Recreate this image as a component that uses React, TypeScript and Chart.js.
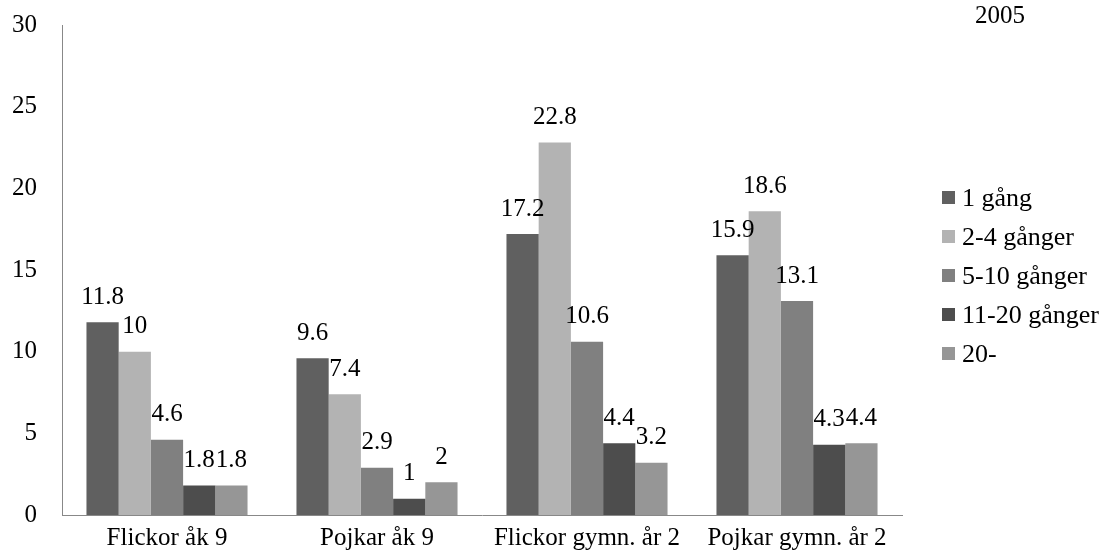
import React, { useEffect, useRef } from "react";
import { Chart, registerables } from "chart.js";

Chart.register(...registerables);

const categories = ["Flickor åk 9", "Pojkar åk 9", "Flickor gymn. år 2", "Pojkar gymn. år 2"];
const seriesNames = ["1 gång", "2-4 gånger", "5-10 gånger", "11-20 gånger", "20-"];
const seriesColors = ["#606060", "#b3b3b3", "#808080", "#4d4d4d", "#969696"];
const once = [11.8, 9.6, 17.2, 15.9];
const twoToFour = [10, 7.4, 22.8, 18.6];
const fiveToTen = [4.6, 2.9, 10.6, 13.1];
const elevenToTwenty = [1.8, 1, 4.4, 4.3];
const overTwenty = [1.8, 2, 3.2, 4.4];
const seriesValues = [once, twoToFour, fiveToTen, elevenToTwenty, overTwenty];
const yTicks = [0, 5, 10, 15, 20, 25, 30];
const titleText = "2005";

const FONT = "Liberation Serif";
const FS = 25;

const labelPlugin = {
  id: "valueLabels",
  afterDatasetsDraw(chart: any) {
    const ctx = chart.ctx;
    ctx.save();
    ctx.font = `${FS}px "${FONT}"`;
    ctx.fillStyle = "#000";
    ctx.textAlign = "center";
    ctx.textBaseline = "middle";
    chart.data.datasets.forEach((ds: any, i: number) => {
      const meta = chart.getDatasetMeta(i);
      meta.data.forEach((bar: any, j: number) => {
        ctx.fillText(String(ds.data[j]), bar.x, bar.y - 25);
      });
    });
    ctx.restore();
  },
};

export default function App() {
  const ref = useRef<HTMLCanvasElement>(null);
  useEffect(() => {
    const chart = new Chart(ref.current!, {
      type: "bar",
      data: {
        labels: categories,
        datasets: seriesNames.map((name, i) => ({
          label: name,
          data: seriesValues[i],
          backgroundColor: seriesColors[i],
          borderWidth: 0,
          categoryPercentage: 0.767,
          barPercentage: 1.0,
        })),
      },
      options: {
        animation: false,
        responsive: false,
        layout: { autoPadding: false, padding: { top: 25, right: 203, left: 0, bottom: 0 } },
        plugins: {
          legend: { display: false },
          tooltip: { enabled: false },
        },
        scales: {
          x: {
            grid: { display: false, drawTicks: false },
            border: { display: true, color: "#888888", width: 1 },
            ticks: { color: "#000", font: { family: FONT, size: FS }, padding: 8, maxRotation: 0, autoSkip: false },
            afterFit: (s: any) => { s.height = 39; s.paddingLeft = 0; s.paddingRight = 0; },
          },
          y: {
            min: 0,
            max: 30,
            afterBuildTicks: (s: any) => { s.ticks = yTicks.map((v) => ({ value: v })); },
            grid: { display: false, drawTicks: false },
            border: { display: true, color: "#888888", width: 1 },
            ticks: { color: "#000", font: { family: FONT, size: FS }, padding: 25 },
            afterFit: (s: any) => { s.width = 62; s.paddingTop = 0; s.paddingBottom = 0; },
          },
        },
      },
      plugins: [labelPlugin],
    });
    return () => chart.destroy();
  }, []);

  return (
    <div style={{ position: "absolute", left: 0, top: 0, width: 1105, height: 554, background: "#fff", fontFamily: `"${FONT}"` }}>
      <canvas ref={ref} width={1105} height={554} style={{ position: "absolute", left: 0, top: 0 }} />
      <div style={{ position: "absolute", left: 975, top: 1, fontSize: FS, color: "#000", lineHeight: "28px" }}>{titleText}</div>
      <div style={{ position: "absolute", left: 942, top: 178 }}>
        {seriesNames.map((n, i) => (
          <div key={n} style={{ display: "flex", alignItems: "center", height: 39, fontSize: 26, color: "#000", whiteSpace: "nowrap" }}>
            <span style={{ display: "inline-block", width: 13, height: 13, background: seriesColors[i], marginRight: 7 }} />
            <span style={{ lineHeight: "28px" }}>{n}</span>
          </div>
        ))}
      </div>
    </div>
  );
}
